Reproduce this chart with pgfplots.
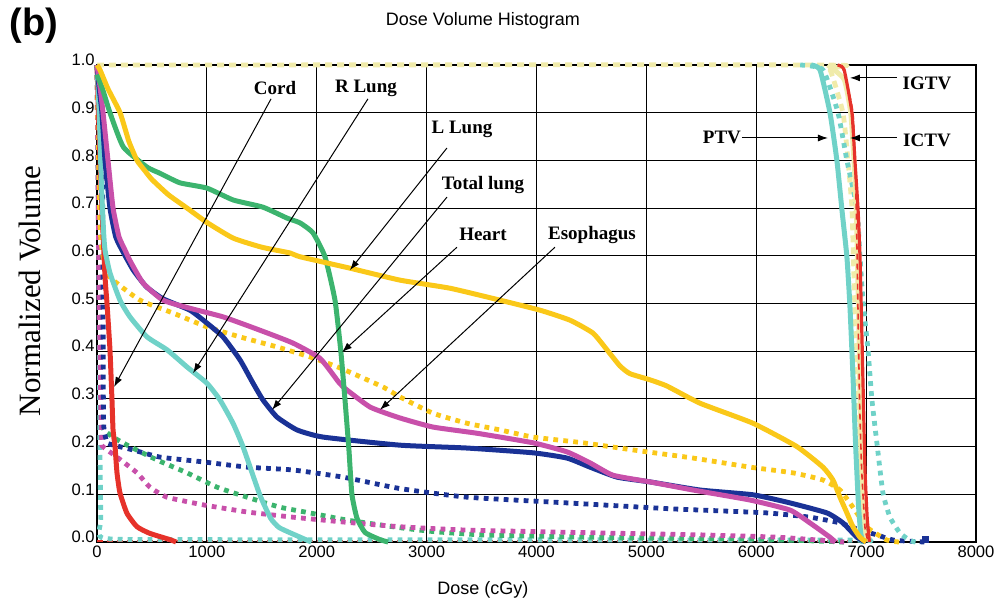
\documentclass[border=0pt]{standalone}
\usepackage{pgfplots}
\pgfplotsset{compat=1.18}
\usepackage{fontspec}
\setmainfont{Liberation Serif}
\setsansfont{Liberation Sans}
\usetikzlibrary{arrows.meta}
\definecolor{cY}{RGB}{250,200,25}
\definecolor{cG}{RGB}{60,180,110}
\definecolor{cM}{RGB}{200,80,170}
\definecolor{cB}{RGB}{26,50,150}
\definecolor{cC}{RGB}{112,210,200}
\definecolor{cR}{RGB}{230,50,42}
\definecolor{cP}{RGB}{240,235,170}
\begin{document}
\begin{tikzpicture}
\path[use as bounding box] (-48.5pt,-32.5pt) rectangle (451.5pt,271pt);
\begin{axis}[
  at={(0,0)}, anchor=south west,
  scale only axis, width=439.5pt, height=238.5pt,
  xmin=0, xmax=8000, ymin=0, ymax=1,
  clip=false,
  xtick={0,1000,...,8000}, ytick={0,0.1,...,1.0},
  scaled x ticks=false,
  grid=major, major grid style={black, line width=0.55pt},
  axis line style={black, line width=0.55pt},
  major tick length=0pt,
  /pgf/number format/assume math mode=true,
  tick label style={font=\fontsize{8.3}{10}\selectfont\sffamily},
  xticklabel style={/pgf/number format/1000 sep={}, inner sep=1.5pt},
  yticklabel style={/pgf/number format/fixed, /pgf/number format/fixed zerofill, /pgf/number format/precision=1, inner sep=1pt, yshift=2.5pt},
  title={Dose Volume Histogram},
  title style={font=\fontsize{9}{11}\selectfont\sffamily, at={(axis description cs:0.439,1.067)}, anchor=center},
  xlabel={Dose (cGy)},
  xlabel style={font=\fontsize{9}{11}\selectfont\sffamily, at={(axis description cs:0.439,-0.1006)}, anchor=center},
  ylabel={Normalized Volume},
  ylabel style={font=\fontsize{15.5}{18}\selectfont\rmfamily, at={(axis description cs:-0.0762,0.526)}, anchor=center, rotate=0},
  every axis plot/.append style={line join=round, smooth, tension=0.3},
  dotsty/.style={line width=2.4pt, dash pattern=on 2.4pt off 2.6pt},
  solsty/.style={line width=2.5pt},
]
% ---------- dotted (plan B) curves ----------
\addplot[cR, line width=0.8pt, dash pattern=on 3pt off 2pt, sharp plot] coordinates {(0,0.002) (6900,0.002)};
\addplot[cP, dotsty, dash pattern=on 3.5pt off 2.5pt] coordinates {(0,1) (6550,1) (6671,0.99) (6789,0.9) (6835,0.8) (6871,0.7) (6890,0.55) (6910,0.4) (6930,0.25) (6950,0.1) (6980,0.03) (7050,0)};
\addplot[cC, dotsty] coordinates {(0,1) (15,0.6) (25,0.25) (35,0.05) (60,0.008) (1000,0.005) (6800,0.004) (6900,0)};
\addplot[cG, dotsty] coordinates {(0,1) (20,0.6) (35,0.3) (50,0.24) (146,0.22) (300,0.2) (546,0.172) (819,0.145) (1092,0.115) (1365,0.094) (1665,0.073) (1938,0.061) (2275,0.046) (2758,0.03) (3058,0.022) (3500,0.015) (4500,0.01) (6000,0.006) (6800,0)};
\addplot[cM, dotsty] coordinates {(0,1) (20,0.5) (40,0.22) (55,0.2) (182,0.178) (364,0.145) (482,0.115) (637,0.094) (965,0.078) (1365,0.063) (1784,0.052) (2239,0.042) (2758,0.032) (3367,0.025) (4578,0.019) (5488,0.015) (6200,0.01) (6800,0)};
\addplot[cB, dotsty] coordinates {(0,1) (35,0.95) (50,0.8) (55,0.5) (60,0.25) (90,0.21) (118,0.205) (328,0.193) (573,0.178) (965,0.168) (1365,0.157) (1784,0.151) (2239,0.136) (2758,0.112) (3367,0.094) (4277,0.082) (5187,0.07) (5488,0.067) (6097,0.061) (6489,0.052) (6762,0.04) (6944,0.025) (7098,0.015) (7250,0.004) (7530,0)};
\addplot[cB, only marks, mark=square*, mark size=1.6pt] coordinates {(7540,0.005)};
\addplot[cY, dotsty] coordinates {(0,1) (15,0.8) (30,0.65) (60,0.59) (91,0.564) (146,0.549) (391,0.507) (692,0.48) (1000,0.451) (1301,0.43) (1638,0.409) (1938,0.388) (2211,0.365) (2603,0.325) (2758,0.304) (3058,0.27) (3367,0.249) (3668,0.235) (3968,0.22) (4423,0.208) (4878,0.193) (5424,0.176) (5943,0.157) (6334,0.145) (6607,0.13) (6762,0.109) (6880,0.073) (7007,0.031) (7190,0.004) (7300,0)};
\addplot[cC, dotsty] coordinates {(6400,1) (6607,0.99) (6744,0.9) (6825,0.8) (6916,0.7) (6944,0.6) (6971,0.507) (7017,0.403) (7053,0.298) (7098,0.208) (7153,0.103) (7217,0.052) (7308,0.019) (7400,0.003) (7450,0)};
% ---------- solid curves ----------
\addplot[cP, solsty] coordinates {(6650,1) (6800,0.97) (6860,0.9) (6890,0.8) (6910,0.7) (6930,0.5) (6945,0.3) (6960,0.12) (6980,0.03) (7000,0)};
\addplot[cC, solsty] coordinates {(6500,1) (6580,0.99) (6671,0.9) (6734,0.8) (6780,0.696) (6825,0.598) (6853,0.493) (6880,0.35) (6905,0.2) (6930,0.08) (6950,0.02) (6970,0)};
\addplot[cR, line width=1.6pt] coordinates {(6740,1) (6800,0.99) (6871,0.9) (6898,0.8) (6926,0.7) (6944,0.6) (6960,0.45) (6975,0.3) (6990,0.15) (7010,0.05) (7030,0)};
\addplot[cR, line width=0.8pt, dash pattern=on 3pt off 2pt] coordinates {(6780,1) (6880,0.9) (6910,0.7) (6925,0.5) (6940,0.3) (6960,0.15) (6990,0.03) (7020,0)};
\addplot[cR, solsty] coordinates {(0,1) (20,0.85) (45,0.7) (73,0.556) (91,0.5) (118,0.403) (136,0.3) (146,0.235) (164,0.2) (182,0.145) (209,0.103) (273,0.06) (364,0.032) (482,0.018) (664,0.005) (720,0)};
\addplot[cC, solsty] coordinates {(0,1) (20,0.9) (40,0.75) (60,0.65) (73,0.612) (118,0.564) (209,0.507) (300,0.472) (455,0.43) (637,0.403) (819,0.367) (1000,0.333) (1119,0.298) (1238,0.249) (1330,0.199) (1480,0.1) (1580,0.05) (1660,0.03) (1850,0.01) (1950,0)};
\addplot[cB, solsty] coordinates {(0,1) (20,0.95) (45,0.9) (73,0.8) (118,0.7) (170,0.64) (228,0.612) (330,0.57) (450,0.535) (600,0.51) (846,0.486) (1000,0.459) (1147,0.43) (1301,0.382) (1420,0.333) (1510,0.298) (1638,0.262) (1820,0.235) (2057,0.22) (2758,0.203) (3367,0.197) (3968,0.187) (4277,0.176) (4487,0.157) (4733,0.136) (5033,0.126) (5488,0.109) (5970,0.099) (6307,0.082) (6643,0.061) (6789,0.04) (6916,0.01) (7000,0)};
\addplot[cM, solsty] coordinates {(0,1) (30,0.95) (55,0.9) (100,0.8) (146,0.7) (200,0.64) (255,0.612) (300,0.59) (419,0.543) (600,0.507) (846,0.49) (1147,0.472) (1483,0.444) (1784,0.417) (2030,0.385) (2200,0.335) (2240,0.325) (2485,0.283) (2758,0.26) (3058,0.241) (3458,0.228) (3968,0.208) (4277,0.189) (4487,0.166) (4696,0.14) (5033,0.126) (5424,0.109) (5943,0.088) (6307,0.067) (6489,0.04) (6671,0.01) (6720,0)};
\addplot[cG, solsty] coordinates {(0,0.98) (50,0.95) (118,0.9) (240,0.828) (455,0.786) (573,0.773) (755,0.753) (1000,0.742) (1240,0.717) (1510,0.702) (1730,0.679) (1848,0.669) (1966,0.648) (2075,0.598) (2166,0.507) (2220,0.398) (2257,0.298) (2293,0.193) (2320,0.1) (2366,0.05) (2440,0.02) (2575,0.005) (2650,0)};
\addplot[cY, solsty] coordinates {(0,1) (27,0.99) (100,0.95) (210,0.9) (290,0.84) (364,0.8) (430,0.78) (500,0.76) (650,0.728) (820,0.7) (1000,0.67) (1240,0.637) (1500,0.618) (1756,0.606) (1848,0.598) (2303,0.574) (2758,0.549) (3213,0.532) (3668,0.507) (4032,0.486) (4305,0.465) (4514,0.438) (4641,0.403) (4760,0.369) (4850,0.353) (5033,0.34) (5187,0.327) (5488,0.291) (5970,0.249) (6370,0.2) (6607,0.157) (6698,0.13) (6762,0.094) (6825,0.061) (6880,0.032) (6944,0.01) (7000,0)};
% ---------- annotations ----------
\tikzset{ann/.style={font=\fontsize{9.5}{11}\selectfont\rmfamily\bfseries}, arr/.style={black, line width=0.5pt, -{Latex[length=5pt,width=3.5pt]}}}
\node[ann] at (axis cs:1620,0.952) {Cord};
\draw[arr] (axis cs:1584,0.929) -- (axis cs:155,0.325);
\node[ann] at (axis cs:2448,0.952) {R Lung};
\draw[arr] (axis cs:2466,0.929) -- (axis cs:874,0.354);
\node[ann] at (axis cs:3322,0.864) {L Lung};
\draw[arr] (axis cs:3185,0.826) -- (axis cs:2302,0.570);
\node[ann] at (axis cs:3513,0.748) {Total lung};
\draw[arr] (axis cs:3185,0.723) -- (axis cs:1593,0.277);
\node[ann] at (axis cs:3513,0.644) {Heart};
\draw[arr] (axis cs:3276,0.618) -- (axis cs:2230,0.398);
\node[ann] at (axis cs:4505,0.644) {Esophagus};
\draw[arr] (axis cs:4168,0.618) -- (axis cs:2575,0.277);
\node[ann] at (axis cs:7554,0.962) {IGTV};
\draw[arr] (axis cs:7281,0.973) -- (axis cs:6853,0.973);
\node[ann] at (axis cs:7554,0.843) {ICTV};
\draw[arr] (axis cs:7281,0.847) -- (axis cs:6853,0.847);
\node[ann] at (axis cs:5688,0.849) {PTV};
\draw[arr] (axis cs:5870,0.847) -- (axis cs:6653,0.847);
\end{axis}
\node[font=\fontsize{19}{22}\selectfont\sffamily\bfseries] at (-31.5pt,258pt) {(b)};
\end{tikzpicture}
\end{document}
